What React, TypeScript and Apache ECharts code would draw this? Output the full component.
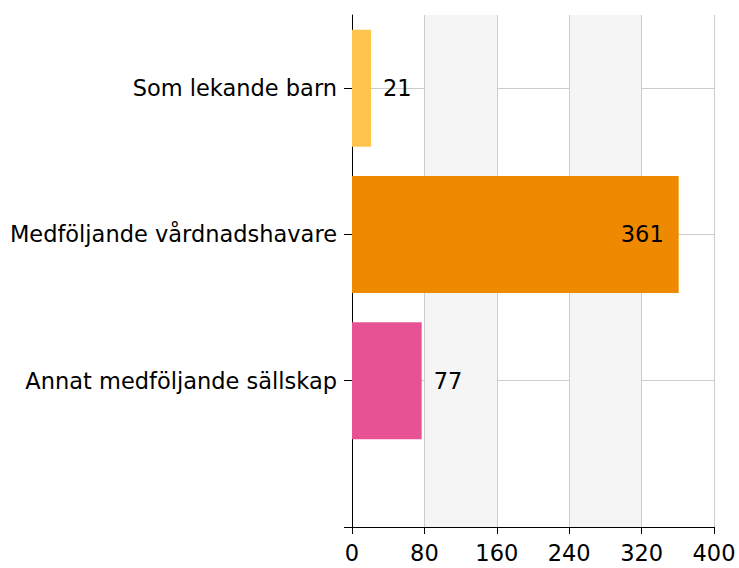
import React, { useEffect, useRef } from "react";
import * as echarts from "echarts";

const categories = ["Som lekande barn", "Medföljande vårdnadshavare", "Annat medföljande sällskap"];
const values = [21, 361, 77];
const barColors = ["#FFC44E", "#EF8A00", "#E75295"];
const xTicks = { min: 0, max: 400, interval: 80 };

const FONT = "'DejaVu Sans', 'Liberation Sans', Arial, sans-serif";

export default function App() {
  const ref = useRef<HTMLDivElement>(null);
  useEffect(() => {
    if (!ref.current) return;
    const chart = echarts.init(ref.current, null, { renderer: "svg" });
    // half-step category points: gaps between and after the bars
    const yData: string[] = [""];
    const sData: any[] = ["-"];
    categories.forEach((c, i) => {
      yData.push(c, "");
      sData.push(
        {
          value: values[i],
          itemStyle: { color: barColors[i] },
          label: values[i] > 200
            ? { position: "insideRight", distance: 15 }
            : { position: "right", distance: 12 },
        },
        "-"
      );
    });
    yData.push("");
    sData.push("-");

    chart.setOption({
      animation: false,
      grid: { left: 352, right: 25, top: 15, bottom: 41, containLabel: false },
      xAxis: {
        type: "value",
        min: xTicks.min,
        max: xTicks.max,
        interval: xTicks.interval,
        axisLine: { show: true, lineStyle: { color: "#000", width: 1 } },
        axisTick: { show: true, length: 7, lineStyle: { color: "#000" } },
        axisLabel: { color: "#000", fontSize: 22.5, fontFamily: FONT, margin: 14 },
        splitLine: { show: true, lineStyle: { color: "#cccccc", width: 1 } },
        splitArea: { show: true, areaStyle: { color: ["rgba(255,255,255,0)", "#f5f5f5"] } },
      },
      yAxis: {
        type: "category",
        inverse: true,
        boundaryGap: false,
        data: yData,
        axisLine: { show: true, lineStyle: { color: "#000", width: 1 } },
        axisTick: { show: true, length: 8, interval: (i: number) => i % 2 === 1, lineStyle: { color: "#000" } },
        axisLabel: { color: "#000", fontSize: 22.5, fontFamily: FONT, margin: 15, interval: 0 },
        splitLine: { show: true, interval: (i: number) => i % 2 === 1 && i < yData.length - 1, lineStyle: { color: "#cccccc", width: 1 } },
      },
      series: [
        {
          type: "bar",
          data: sData,
          barWidth: 117,
          label: { show: true, color: "#000", fontSize: 22.5, fontFamily: FONT },
        },
      ],
    });
    return () => chart.dispose();
  }, []);
  return (
    <div
      ref={ref}
      style={{ position: "fixed", left: 0, top: 0, width: 739, height: 568, background: "#fff" }}
    />
  );
}
